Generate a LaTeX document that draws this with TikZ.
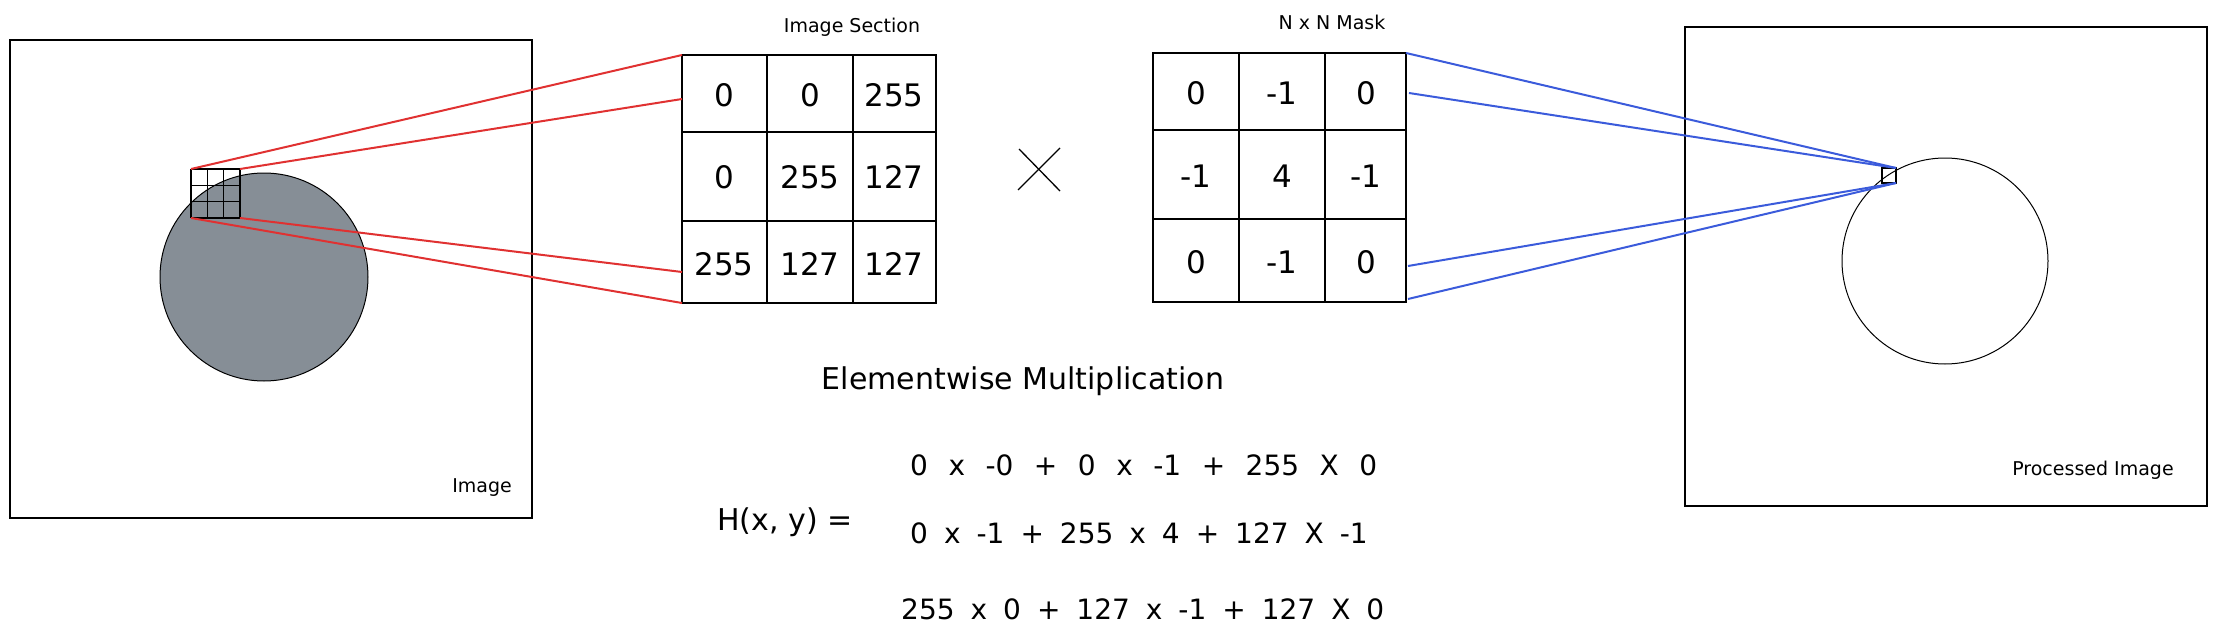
\documentclass[tikz,border=0pt]{standalone}
\usepackage{fontspec}
\setmainfont{DejaVu Sans}
\definecolor{linkred}{RGB}{224,49,49}
\definecolor{linkblue}{RGB}{59,91,219}
\definecolor{shade}{RGB}{134,142,150}
\newcommand{\widespaces}[1]{\spaceskip=#1\relax}
\begin{document}
\begin{tikzpicture}[
                x=1pt, y=-1pt,
                imgframe/.style={draw=black, line width=1.5pt},
                tableline/.style={draw=black, line width=1.2pt},
                zoomred/.style={draw=linkred, line width=2pt},
                zoomblue/.style={draw=linkblue, line width=2pt},
                boxlabel/.style={font=\fontsize{19}{23}\selectfont},
                cell/.style={font=\fontsize{31}{36}\selectfont},
                formula/.style={font=\fontsize{28}{34}\selectfont, anchor=west, inner sep=0pt}
            ]
            \useasboundingbox (0,0) rectangle (2217,642);

            % Eingangsbild
            \draw[imgframe] (10,40) rectangle (532,518);
            \filldraw[fill=shade, draw=black, line width=1pt] (264,277) circle[radius=104pt];
            \foreach \i in {0,1,2,3} {
                \draw[line width=1.2pt] (191+16.3*\i,169) -- ++(0,49);
                \draw[line width=1.2pt] (191,169+16.3*\i) -- ++(49,0);
            }
            \node[boxlabel] (img) at (482,488) {Image};
            \coordinate (patch-nw) at (191,169);
            \coordinate (patch-ne) at (240,169);
            \coordinate (patch-se) at (240,218);
            \coordinate (patch-sw) at (191,218);

            % Bildausschnitt
            \node[boxlabel] (sectitle) at (852,27) {Image Section};
            \draw[tableline] (682,55) rectangle (936,303);
            \foreach \x in {767,853} \draw[tableline] (\x,55) -- (\x,303);
            \foreach \y in {132,221} \draw[tableline] (682,\y) -- (936,\y);
            \foreach \y/\a/\b/\c [count=\r] in {95/0/0/255, 177/0/255/127, 264/255/127/127} {
                \node[cell] (sec-\r-1) at (724,\y) {\a};
                \node[cell] (sec-\r-2) at (810,\y) {\b};
                \node[cell] (sec-\r-3) at (894,\y) {\c};
            }
            \coordinate (sec-a) at (682,55);
            \coordinate (sec-b) at (682,99);
            \coordinate (sec-c) at (682,272);
            \coordinate (sec-d) at (682,303);

            % Verbindungen zum Ausschnitt
            \draw[zoomred] (patch-nw) -- (sec-a);
            \draw[zoomred] (patch-ne) -- (sec-b);
            \draw[zoomred] (patch-se) -- (sec-c);
            \draw[zoomred] (patch-sw) -- (sec-d);

            % Multiplikationszeichen
            \draw[line width=1.3pt] (1019,149) -- (1060,191);
            \draw[line width=1.3pt] (1060,148) -- (1018,190);

            % Maske
            \node[boxlabel] (masktitle) at (1332,22) {N x N Mask};
            \draw[tableline] (1153,53) rectangle (1406,302);
            \foreach \x in {1239,1325} \draw[tableline] (\x,53) -- (\x,302);
            \foreach \y in {130,219} \draw[tableline] (1153,\y) -- (1406,\y);
            \foreach \y/\a/\b/\c [count=\r] in {93/0/-1/0, 176/-1/4/-1, 262/0/-1/0} {
                \node[cell] (mask-\r-1) at (1196,\y) {\a};
                \node[cell] (mask-\r-2) at (1282,\y) {\b};
                \node[cell] (mask-\r-3) at (1366,\y) {\c};
            }
            \coordinate (mask-a) at (1406,53);
            \coordinate (mask-b) at (1409,93);
            \coordinate (mask-c) at (1408,266);
            \coordinate (mask-d) at (1408,299);

            % Ausgabebild
            \draw[imgframe] (1685,27) rectangle (2207,506);
            \draw[line width=1pt] (1945,261) circle[radius=103pt];
            \draw[line width=1.2pt] (1882,168) rectangle (1896,183);
            \coordinate (dot-ne) at (1896,168);
            \coordinate (dot-se) at (1896,183);
            \node[boxlabel] (outimg) at (2093,470) {Processed Image};

            % Verbindungen zum Ausgabepixel
            \draw[zoomblue] (mask-a) -- (dot-ne);
            \draw[zoomblue] (mask-b) -- (dot-ne);
            \draw[zoomblue] (mask-c) -- (dot-se);
            \draw[zoomblue] (mask-d) -- (dot-se);

            % Rechnung
            \node[font=\fontsize{30}{36}\selectfont] (elemtitle) at (1023,381) {Elementwise Multiplication};
            \node[font=\fontsize{30}{36}\selectfont, anchor=west, inner sep=0pt] (hxy) at (717,522) {H(x, y) =};
            \node[formula] (row1) at (910,465) {\widespaces{20.5pt}0 x -0 + 0 x -1 + 255 X 0};
            \node[formula] (row2) at (910,533) {\widespaces{16pt}0 x -1 + 255 x 4 + 127 X -1};
            \node[formula] (row3) at (901,609) {\widespaces{16pt}255 x 0 + 127 x -1 + 127 X 0};
        \end{tikzpicture}
\end{document}
